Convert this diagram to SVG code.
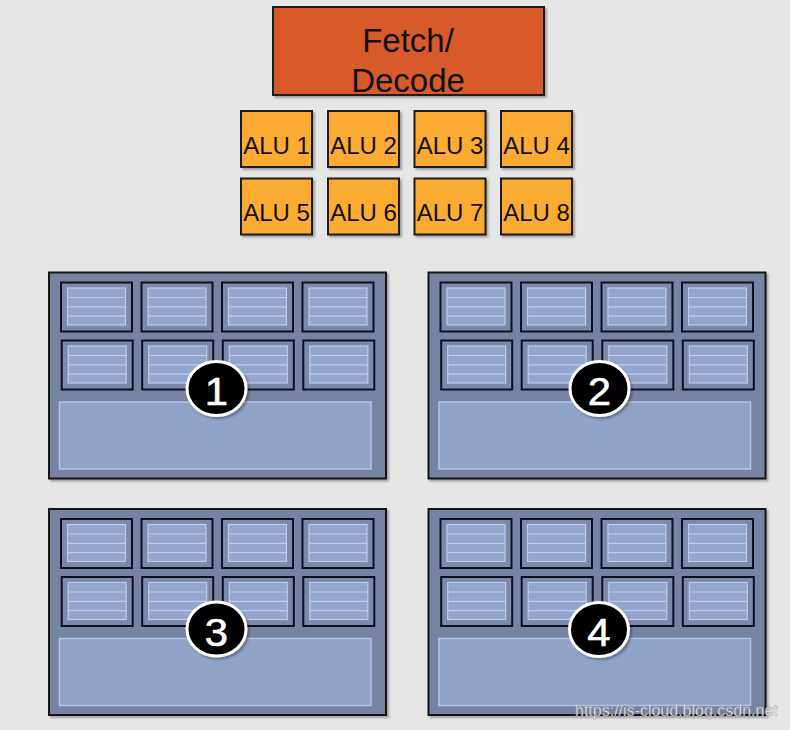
<svg xmlns="http://www.w3.org/2000/svg" xmlns:xlink="http://www.w3.org/1999/xlink" width="790" height="730" viewBox="0 0 790 730">
<style>
  .bg { fill: #e6e6e6; }
  .fetch { fill: #d85a2a; stroke: #1a1a1a; stroke-width: 2; }
  .alu { fill: #fcab33; stroke: #1a1a1a; stroke-width: 2; }
  .lbl { font-family: "Liberation Sans", Arial, sans-serif; fill: #111; text-anchor: middle; }
  .core { fill: #7683a3; stroke: #151515; stroke-width: 2; }
  .cellO { fill: #7c89aa; stroke: #0e1020; stroke-width: 2; }
  .cellI { fill: #94a6ce; stroke: #bccbef; stroke-width: 1.2; }
  .cellL { stroke: #bccbef; stroke-width: 1.2; fill: none; }
  .big { fill: #8fa2c8; stroke: #b3c4ea; stroke-width: 1.5; }
  .badge { fill: #000; stroke: #fff; stroke-width: 3; }
  .num { font-family: "Liberation Sans", Arial, sans-serif; font-size: 38px; fill: #fff; text-anchor: middle; stroke: #fff; stroke-width: 0.6; }
  .wm { font-family: "Liberation Sans", Arial, sans-serif; font-size: 16px; fill: #ffffff; fill-opacity: 0.85; stroke: #8a8a8a; stroke-width: 0.5; stroke-opacity: 0.8; }
</style>
<defs>
  <filter id="sh" x="-10%" y="-10%" width="130%" height="130%">
    <feDropShadow dx="2" dy="2" stdDeviation="1.2" flood-color="#000" flood-opacity="0.3"/>
  </filter>
  <g id="cell">
    <rect class="cellO" x="0" y="0" width="71" height="49"/>
    <rect class="cellI" x="6.5" y="5.5" width="58" height="37"/>
    <path class="cellL" d="M6.5 15H64.5M6.5 24.3H64.5M6.5 33.6H64.5"/>
  </g>
  <g id="coreTpl">
    <rect class="core" x="0" y="0" width="337" height="206" filter="url(#sh)"/>
    <use xlink:href="#cell" x="12" y="10"/>
    <use xlink:href="#cell" x="92.5" y="10"/>
    <use xlink:href="#cell" x="173" y="10"/>
    <use xlink:href="#cell" x="253.5" y="10"/>
    <use xlink:href="#cell" x="12.7" y="68"/>
    <use xlink:href="#cell" x="93.2" y="68"/>
    <use xlink:href="#cell" x="173.8" y="68"/>
    <use xlink:href="#cell" x="254.3" y="68"/>
    <rect class="big" x="10.5" y="129.5" width="311.5" height="67"/>
  </g>
  <ellipse id="badge" class="badge" cx="0" cy="0" rx="29.5" ry="27"/>
</defs>
<rect class="bg" x="0" y="0" width="790" height="730"/>

<g id="fetch-decode">
  <rect class="fetch" x="273" y="7" width="271" height="88" filter="url(#sh)"/>
  <text class="lbl" x="408" y="52" font-size="33">Fetch/</text>
  <text class="lbl" x="408" y="91.5" font-size="33">Decode</text>
</g>

<g id="alu1"><rect class="alu" x="241" y="111" width="71" height="56" filter="url(#sh)"/><text class="lbl" x="276.5" y="153.5" font-size="24">ALU 1</text></g>
<g id="alu2"><rect class="alu" x="328" y="111" width="71" height="56" filter="url(#sh)"/><text class="lbl" x="363.5" y="153.5" font-size="24">ALU 2</text></g>
<g id="alu3"><rect class="alu" x="414.5" y="111" width="71" height="56" filter="url(#sh)"/><text class="lbl" x="450" y="153.5" font-size="24">ALU 3</text></g>
<g id="alu4"><rect class="alu" x="501" y="111" width="71" height="56" filter="url(#sh)"/><text class="lbl" x="536.5" y="153.5" font-size="24">ALU 4</text></g>
<g id="alu5"><rect class="alu" x="241" y="178.5" width="71" height="56" filter="url(#sh)"/><text class="lbl" x="276.5" y="221" font-size="24">ALU 5</text></g>
<g id="alu6"><rect class="alu" x="328" y="178.5" width="71" height="56" filter="url(#sh)"/><text class="lbl" x="363.5" y="221" font-size="24">ALU 6</text></g>
<g id="alu7"><rect class="alu" x="414.5" y="178.5" width="71" height="56" filter="url(#sh)"/><text class="lbl" x="450" y="221" font-size="24">ALU 7</text></g>
<g id="alu8"><rect class="alu" x="501" y="178.5" width="71" height="56" filter="url(#sh)"/><text class="lbl" x="536.5" y="221" font-size="24">ALU 8</text></g>

<g id="core1" transform="translate(49,272.5)">
  <use xlink:href="#coreTpl"/>
  <g transform="translate(167.5,116)">
    <use xlink:href="#badge" filter="url(#sh)"/>
    <text class="num" x="0" y="16.5" transform="scale(1.1,1)">1</text>
  </g>
</g>
<g id="core2" transform="translate(428.5,272.5)">
  <use xlink:href="#coreTpl"/>
  <g transform="translate(171,116)">
    <use xlink:href="#badge" filter="url(#sh)"/>
    <text class="num" x="0" y="16.5" transform="scale(1.1,1)">2</text>
  </g>
</g>
<g id="core3" transform="translate(49,509)">
  <use xlink:href="#coreTpl"/>
  <g transform="translate(167.5,120)">
    <use xlink:href="#badge" filter="url(#sh)"/>
    <text class="num" x="0" y="16.5" transform="scale(1.1,1)">3</text>
  </g>
</g>
<g id="core4" transform="translate(428.5,509)">
  <use xlink:href="#coreTpl"/>
  <g transform="translate(170.5,120.5)">
    <use xlink:href="#badge" filter="url(#sh)"/>
    <text class="num" x="0" y="16.5" transform="scale(1.1,1)">4</text>
  </g>
</g>

<g id="connectors"></g>

<text class="wm" x="575" y="716">https://is-cloud.blog.csdn.net</text>
</svg>
